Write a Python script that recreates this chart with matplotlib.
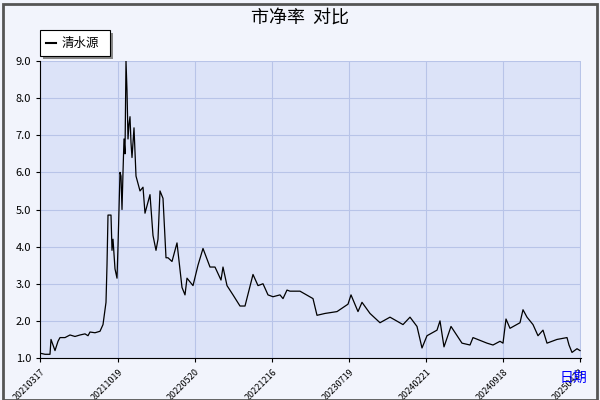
import matplotlib
matplotlib.use('Agg')
import matplotlib.pyplot as plt
from matplotlib.patches import Rectangle

plt.rcParams['font.family'] = ['Noto Sans CJK SC', 'DejaVu Sans']

# trading-day index and P/B value
days = [0, 10, 20, 22, 26, 30, 36, 40, 50, 60, 70, 80, 90, 96, 100, 110, 120, 126, 130,
        132, 134, 136, 142, 144, 146, 150, 154, 156, 160, 162, 164, 166, 168, 170, 172,
        174, 176, 178, 180, 182, 184, 188, 192, 196, 200, 206, 210, 214, 220, 226, 232,
        236, 240, 246, 252, 256, 264, 274, 284, 290, 294, 306, 316, 326, 340, 350, 362,
        366, 374, 386, 400, 410, 426, 436, 446, 456, 466, 480, 486, 494, 500, 520, 546,
        554, 570, 594, 616, 622, 636, 644, 660, 680, 700, 726, 740, 754, 764, 774, 794,
        800, 808, 822, 844, 860, 866, 894, 906, 920, 926, 932, 940, 960, 966, 974, 986,
        996, 1006, 1014, 1034, 1054, 1058, 1064, 1074, 1080]
pb = [1.13, 1.1, 1.1, 1.5, 1.35, 1.2, 1.45, 1.55, 1.55, 1.62, 1.58, 1.62, 1.65, 1.6, 1.7,
      1.68, 1.72, 1.9, 2.3, 2.5, 3.5, 4.85, 4.85, 3.9, 4.2, 3.4, 3.15, 4.0, 6.0, 5.9, 5.0,
      6.0, 6.9, 6.5, 9.0, 8.2, 6.9, 7.3, 7.5, 6.8, 6.4, 7.2, 5.9, 5.7, 5.5, 5.6, 4.9, 5.1,
      5.4, 4.3, 3.9, 4.2, 5.5, 5.3, 3.7, 3.7, 3.6, 4.1, 2.9, 2.7, 3.15, 2.95, 3.5, 3.95,
      3.45, 3.45, 3.1, 3.45, 2.95, 2.7, 2.4, 2.4, 3.25, 2.95, 3.0, 2.7, 2.65, 2.7, 2.6,
      2.83, 2.8, 2.8, 2.6, 2.15, 2.2, 2.25, 2.45, 2.7, 2.25, 2.5, 2.2, 1.95, 2.1, 1.9, 2.1,
      1.85, 1.27, 1.6, 1.75, 2.0, 1.3, 1.85, 1.4, 1.35, 1.55, 1.4, 1.35, 1.45, 1.4, 2.05,
      1.8, 1.95, 2.3, 2.1, 1.9, 1.6, 1.75, 1.4, 1.5, 1.55, 1.35, 1.15, 1.25, 1.2]

tick_days = [0, 156, 310, 464, 618, 772, 926, 1080]
tick_labels = ['20210317', '20211019', '20220520', '20221216', '20230719',
               '20240221', '20240918', '20250423']

fig = plt.figure(figsize=(6, 4), dpi=100, facecolor='#f2f4fc')
ax = fig.add_axes([40 / 600, 42 / 400, 541 / 600, 297 / 400])
ax.set_facecolor('#dce3f8')
ax.plot(days, pb, color='black', linewidth=0.9)
ax.set_xlim(0, 1082)
ax.set_ylim(1.0, 9.0)
ax.set_yticks([1, 2, 3, 4, 5, 6, 7, 8, 9])
ax.set_yticklabels([f'{v:.1f}' for v in range(1, 10)], fontsize=8)
ax.set_xticks(tick_days)
ax.set_xticklabels(tick_labels, rotation=45, fontsize=6.5, ha='right',
                   rotation_mode='anchor')
ax.grid(True, color='#b8c4e8', linewidth=0.8)
for s in ['top', 'right']:
    ax.spines[s].set_visible(False)
ax.tick_params(length=3)

fig.text(0.5, 0.955, '市净率  对比', ha='center', va='center', fontsize=13)
fig.text(0.955, 0.055, '日期', ha='center', va='center', fontsize=10, color='blue')

# legend box with shadow
fig.patches.append(Rectangle((43 / 600, 341 / 400), 70 / 600, 26 / 400,
                             transform=fig.transFigure, facecolor='#888888', edgecolor='none'))
fig.patches.append(Rectangle((40 / 600, 344 / 400), 70 / 600, 26 / 400,
                             transform=fig.transFigure, facecolor='white', edgecolor='black', lw=0.8))
fig.lines.append(plt.Line2D([46 / 600, 56 / 600], [357 / 400, 357 / 400],
                            transform=fig.transFigure, color='black', lw=1.5))
fig.text(62 / 600, 357 / 400, '清水源', va='center', fontsize=9)

# outer frame with shadow
fig.patches.append(Rectangle((0.005, 0.0), 0.99, 0.99, transform=fig.transFigure,
                             facecolor='none', edgecolor='#555555', lw=2))

fig.savefig('out.png', dpi=100, facecolor=fig.get_facecolor())
